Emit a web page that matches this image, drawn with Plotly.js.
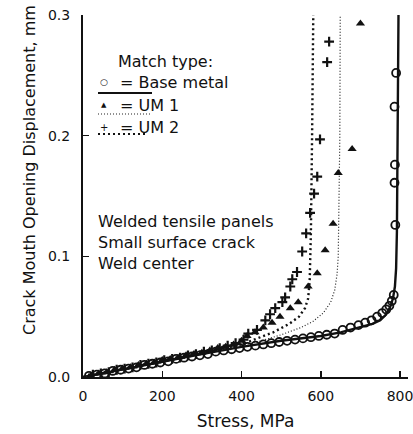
<!DOCTYPE html>
<html><head><meta charset="utf-8">
<script src="https://cdn.plot.ly/plotly-3.0.1.min.js"></script>
<style>html,body{margin:0;padding:0;background:#fff;}#chart{width:413px;height:434px;}</style>
</head><body><div id="chart"></div>
<script>
// Base metal (circles) and analysis curve (solid)
var baseStress = [15,35,55,75,95,115,135,155,175,195,215,235,255,275,295,315,335,355,375,395,415,435,455,475,495,515,535,555,575,595,615,635,655,675,695,712,728,742,755,765,773,779,784,788,786,787,786,790];
var baseCmod = [0.001,0.002,0.003,0.005,0.006,0.007,0.008,0.010,0.011,0.012,0.013,0.015,0.016,0.017,0.018,0.019,0.021,0.022,0.023,0.024,0.025,0.026,0.027,0.028,0.029,0.030,0.031,0.032,0.033,0.034,0.035,0.036,0.039,0.041,0.043,0.045,0.047,0.050,0.053,0.056,0.059,0.063,0.068,0.126,0.161,0.176,0.224,0.252];
var baseLineStress = [0,100,200,300,400,500,600,650,700,730,750,765,775,782,787,790,792,794,796];
var baseLineCmod = [0,0.006,0.0125,0.019,0.025,0.030,0.034,0.037,0.041,0.044,0.047,0.052,0.058,0.065,0.075,0.09,0.12,0.2,0.3];

// UM 1 (triangles) and curve (dotted)
var um1Stress = [20,40,60,80,100,120,140,160,180,200,220,240,260,280,300,320,340,360,380,400,414,434,455,477,497,523,543,568,591,611,631,644,679,700];
var um1Cmod = [0.001,0.003,0.004,0.006,0.007,0.008,0.010,0.011,0.012,0.014,0.015,0.016,0.018,0.019,0.020,0.022,0.024,0.025,0.027,0.030,0.034,0.037,0.041,0.045,0.050,0.057,0.062,0.075,0.086,0.105,0.127,0.169,0.189,0.293];
var um1LineStress = [0,200,400,450,500,550,580,606,625,635,641,644,646,648,649];
var um1LineCmod = [0,0.0125,0.026,0.030,0.035,0.041,0.046,0.053,0.062,0.072,0.085,0.1,0.15,0.2,0.3];

// UM 2 (pluses) and curve (dashed)
var um2Stress = [25,45,65,85,105,125,145,165,185,205,225,245,265,285,305,325,345,365,385,405,417,439,460,472,485,503,510,523,528,540,553,563,573,583,591,598,616,621];
var um2Cmod = [0.002,0.003,0.004,0.006,0.007,0.008,0.010,0.011,0.012,0.014,0.015,0.016,0.018,0.019,0.021,0.022,0.024,0.026,0.028,0.031,0.036,0.039,0.047,0.052,0.057,0.062,0.066,0.075,0.081,0.087,0.104,0.119,0.136,0.152,0.166,0.197,0.261,0.278];
var um2LineStress = [0,200,400,450,480,520,545,560,568,572,575,578,581];
var um2LineCmod = [0,0.013,0.027,0.033,0.037,0.044,0.050,0.057,0.065,0.080,0.12,0.2,0.3];

// Tick labels
var xTicks = [0,200,400,600,800];
var yTicks = [0.0,0.1,0.2,0.3];
var yTickText = ['0.0','0.1','0.2','0.3'];

var FONT = 'DejaVu Sans, sans-serif';
var traces = [
  {x: baseLineStress, y: baseLineCmod, mode: 'lines', line: {color: '#111', width: 2.4}, name: 'Base metal curve'},
  {x: um1LineStress, y: um1LineCmod, mode: 'lines', line: {color: '#222', width: 1.2, dash: '1px,2px'}, name: 'UM 1 curve'},
  {x: um2LineStress, y: um2LineCmod, mode: 'lines', line: {color: '#111', width: 2.4, dash: '2px,3px'}, name: 'UM 2 curve'},
  {x: baseStress, y: baseCmod, mode: 'markers', marker: {symbol: 'circle-open', size: 8, color: '#111', line: {width: 1.8, color: '#111'}}, name: 'Base metal'},
  {x: um1Stress, y: um1Cmod, mode: 'markers', marker: {symbol: 'triangle-up', size: 8, color: '#111'}, name: 'UM 1'},
  {x: um2Stress, y: um2Cmod, mode: 'markers', marker: {symbol: 'cross-thin', size: 7, color: '#111', line: {width: 2.2, color: '#111'}}, name: 'UM 2'}
];

function px2x(px){ return (px-83)/325; }
function py2y(py){ return (377-py)/362; }

var annotations = [
  {text: 'Crack Mouth Opening Displacement, mm', xref: 'paper', yref: 'paper', x: px2x(29), y: py2y(170), textangle: -90, showarrow: false, xanchor: 'center', yanchor: 'middle', font: {family: FONT, size: 16, color: '#111'}},
  {text: 'Match type:', xref: 'paper', yref: 'paper', x: px2x(116), y: py2y(61), showarrow: false, xanchor: 'left', yanchor: 'middle', font: {family: FONT, size: 16, color: '#111'}},
  {text: '○', xref: 'paper', yref: 'paper', x: px2x(104), y: py2y(82), showarrow: false, xanchor: 'center', yanchor: 'middle', font: {family: FONT, size: 9, color: '#111'}},
  {text: '= Base metal', xref: 'paper', yref: 'paper', x: px2x(118), y: py2y(82), showarrow: false, xanchor: 'left', yanchor: 'middle', font: {family: FONT, size: 16, color: '#111'}},
  {text: '▲', xref: 'paper', yref: 'paper', x: px2x(104), y: py2y(105), showarrow: false, xanchor: 'center', yanchor: 'middle', font: {family: FONT, size: 7, color: '#111'}},
  {text: '= UM 1', xref: 'paper', yref: 'paper', x: px2x(118), y: py2y(105), showarrow: false, xanchor: 'left', yanchor: 'middle', font: {family: FONT, size: 16, color: '#111'}},
  {text: '+', xref: 'paper', yref: 'paper', x: px2x(104), y: py2y(127), showarrow: false, xanchor: 'center', yanchor: 'middle', font: {family: FONT, size: 10, color: '#111'}},
  {text: '= UM 2', xref: 'paper', yref: 'paper', x: px2x(118), y: py2y(127), showarrow: false, xanchor: 'left', yanchor: 'middle', font: {family: FONT, size: 16, color: '#111'}},
  {text: 'Welded tensile panels<br>Small surface crack<br>Weld center', xref: 'paper', yref: 'paper', x: px2x(96), y: py2y(243), showarrow: false, xanchor: 'left', yanchor: 'middle', align: 'left', font: {family: FONT, size: 16, color: '#111'}}
];

var shapes = [
  {type: 'line', xref: 'paper', yref: 'paper', x0: px2x(98), x1: px2x(152), y0: py2y(93), y1: py2y(93), line: {color: '#111', width: 2}},
  {type: 'line', xref: 'paper', yref: 'paper', x0: px2x(98), x1: px2x(150), y0: py2y(114), y1: py2y(114), line: {color: '#222', width: 1.2, dash: '1px,2px'}},
  {type: 'line', xref: 'paper', yref: 'paper', x0: px2x(98), x1: px2x(148), y0: py2y(134), y1: py2y(134), line: {color: '#111', width: 2.2, dash: '2px,3px'}}
];

var layout = {
  width: 413, height: 434,
  margin: {l: 83, r: 5, t: 15, b: 57},
  paper_bgcolor: '#fff', plot_bgcolor: '#fff',
  showlegend: false,
  font: {family: FONT, size: 14, color: '#111'},
  xaxis: {
    range: [0, 820], showgrid: false, zeroline: false,
    showline: true, linecolor: '#111', linewidth: 2,
    ticks: 'inside', ticklen: 6, tickwidth: 1.5, tickcolor: '#111',
    tickvals: xTicks, ticktext: xTicks.map(String),
    ticklabeloverflow: 'allow', ticklabelstandoff: 5,
    tickfont: {family: FONT, size: 14, color: '#111'},
    title: {text: 'Stress, MPa', font: {family: FONT, size: 17, color: '#111'}, standoff: 12}
  },
  yaxis: {
    range: [0, 0.3], showgrid: false, zeroline: false,
    showline: true, linecolor: '#111', linewidth: 2,
    ticks: 'inside', ticklen: 6, tickwidth: 1.5, tickcolor: '#111',
    tickvals: yTicks, ticktext: yTickText,
    ticklabelstandoff: 8,
    tickfont: {family: FONT, size: 14, color: '#111'}
  },
  annotations: annotations,
  shapes: shapes
};

Plotly.newPlot('chart', traces, layout, {staticPlot: true, displayModeBar: false});
</script>
</body></html>
